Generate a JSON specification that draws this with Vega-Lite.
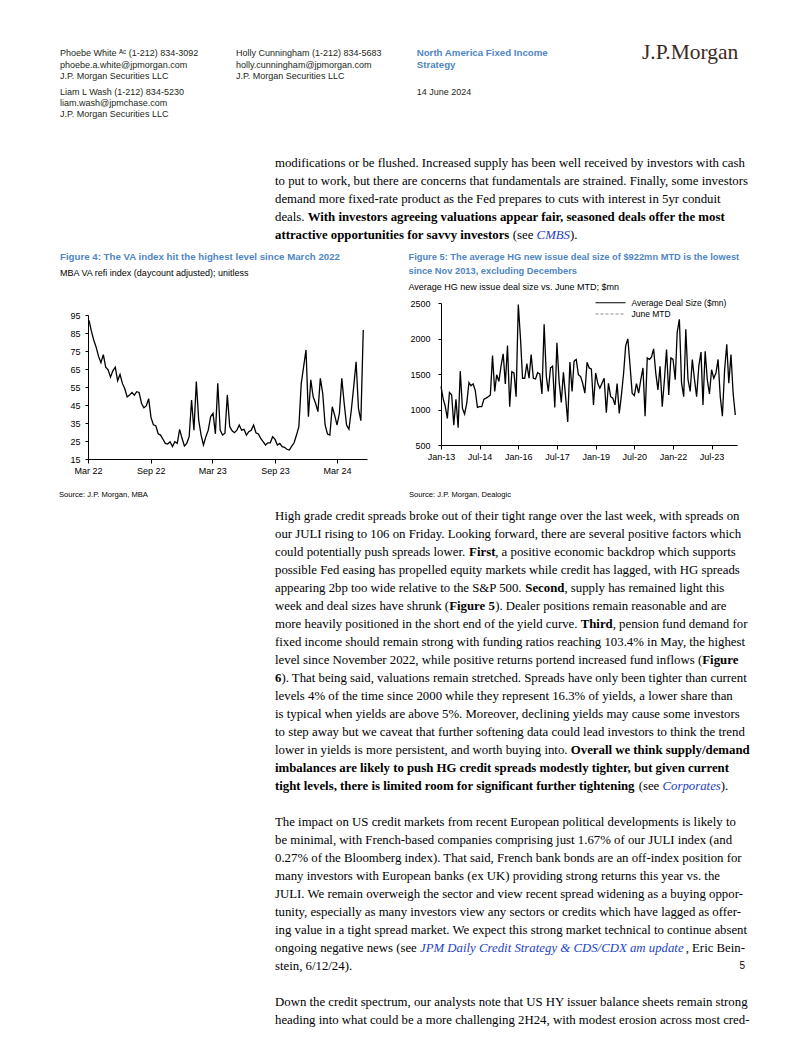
{
"$schema": "https://vega.github.io/schema/vega-lite/v6.json",
"padding": 0,
"background": "#ffffff",
"config": {"view": {"stroke": null}, "concat": {"spacing": 0}},
"spacing": 0,
"bounds": "flush",
"datasets": {
"txtH": [
{"c":0,"r":0,"s":"hdr","t":"Phoebe White ᴬᶜ (1-212) 834-3092"},
{"c":0,"r":1,"s":"hdr","t":"phoebe.a.white@jpmorgan.com"},
{"c":0,"r":2,"s":"hdr","t":"J.P. Morgan Securities LLC"},
{"c":0,"r":3,"s":"hdr","t":"Liam L Wash  (1-212) 834-5230"},
{"c":0,"r":4,"s":"hdr","t":"liam.wash@jpmchase.com"},
{"c":0,"r":5,"s":"hdr","t":"J.P. Morgan Securities LLC"},
{"c":1,"r":0,"s":"hdr","t":"Holly Cunningham  (1-212) 834-5683"},
{"c":1,"r":1,"s":"hdr","t":"holly.cunningham@jpmorgan.com"},
{"c":1,"r":2,"s":"hdr","t":"J.P. Morgan Securities LLC"},
{"c":5,"r":0,"s":"hdrB","t":"North America Fixed Income"},
{"c":5,"r":1,"s":"hdrB","t":"Strategy"},
{"c":5,"r":3,"s":"hdr","t":"14 June 2024"},
{"c":9,"r":0,"s":"logo","t":"J.P.Morgan"},
{"c":2,"r":6,"s":"n","t":"modifications or be flushed. Increased supply has been well received by investors with cash"},
{"c":2,"r":7,"s":"n","t":"to put to work, but there are concerns that fundamentals are strained. Finally, some investors"},
{"c":2,"r":8,"s":"n","t":"demand more fixed-rate product as the Fed prepares to cuts with interest in 5yr conduit"},
{"c":2,"r":9,"s":"n","t":"deals."},
{"c":3,"r":9,"s":"b","t":"With investors agreeing valuations appear fair, seasoned deals offer the most"},
{"c":2,"r":10,"s":"b","t":"attractive opportunities for savvy investors"},
{"c":6,"r":10,"s":"n","t":"(see"},
{"c":7,"r":10,"s":"i","t":"CMBS"},
{"c":8,"r":10,"s":"n","t":")."},
{"c":0,"r":11,"s":"ttl","t":"Figure 4: The VA index hit the highest level since March 2022"},
{"c":0,"r":13,"s":"sub","t":"MBA VA refi index (daycount adjusted); unitless"},
{"c":4,"r":11,"s":"ttl2","t":"Figure 5: The average HG new issue deal size of $922mn MTD is the lowest"},
{"c":4,"r":12,"s":"ttl2","t":"since Nov 2013, excluding Decembers"},
{"c":4,"r":14,"s":"sub","t":"Average HG new issue deal size vs. June MTD; $mn"}
],
"txtB": [
{"c":0,"r":-1,"s":"src","t":"Source: J.P. Morgan, MBA"},
{"c":3,"r":-1,"s":"src","t":"Source: J.P. Morgan, Dealogic"},
{"c":1,"r":0,"s":"n","t":"High grade credit spreads broke out of their tight range over the last week, with spreads on"},
{"c":1,"r":1,"s":"n","t":"our JULI rising to 106 on Friday. Looking forward, there are several positive factors which"},
{"c":1,"r":2,"s":"n","t":"could potentially push spreads lower."},
{"c":6,"r":2,"s":"b","t":"First"},
{"c":7,"r":2,"s":"n","t":", a positive economic backdrop which supports"},
{"c":1,"r":3,"s":"n","t":"possible Fed easing has propelled equity markets while credit has lagged, with HG spreads"},
{"c":1,"r":4,"s":"n","t":"appearing 2bp too wide relative to the S&P 500."},
{"c":8,"r":4,"s":"b","t":"Second"},
{"c":9,"r":4,"s":"n","t":", supply has remained light this"},
{"c":1,"r":5,"s":"n","t":"week and deal sizes have shrunk ("},
{"c":5,"r":5,"s":"b","t":"Figure 5"},
{"c":7,"r":5,"s":"n","t":"). Dealer positions remain reasonable and are"},
{"c":1,"r":6,"s":"n","t":"more heavily positioned in the short end of the yield curve."},
{"c":11,"r":6,"s":"b","t":"Third"},
{"c":12,"r":6,"s":"n","t":", pension fund demand for"},
{"c":1,"r":7,"s":"n","t":"fixed income should remain strong with funding ratios reaching 103.4% in May, the highest"},
{"c":1,"r":8,"s":"n","t":"level since November 2022, while positive returns portend increased fund inflows ("},
{"c":15,"r":8,"s":"b","t":"Figure"},
{"c":1,"r":9,"s":"b","t":"6"},
{"c":2,"r":9,"s":"n","t":"). That being said, valuations remain stretched. Spreads have only been tighter than current"},
{"c":1,"r":10,"s":"n","t":"levels 4% of the time since 2000 while they represent 16.3% of yields, a lower share than"},
{"c":1,"r":11,"s":"n","t":"is typical when yields are above 5%. Moreover, declining yields may cause some investors"},
{"c":1,"r":12,"s":"n","t":"to step away but we caveat that further softening data could lead investors to think the trend"},
{"c":1,"r":13,"s":"n","t":"lower in yields is more persistent, and worth buying into."},
{"c":10,"r":13,"s":"b","t":"Overall we think supply/demand"},
{"c":1,"r":14,"s":"b","t":"imbalances are likely to push HG credit spreads modestly tighter, but given current"},
{"c":1,"r":15,"s":"b","t":"tight levels, there is limited room for significant further tightening"},
{"c":13,"r":15,"s":"n","t":"(see"},
{"c":14,"r":15,"s":"i","t":"Corporates"},
{"c":16,"r":15,"s":"n","t":")."},
{"c":1,"r":17,"s":"n","t":"The impact on US credit markets from recent European political developments is likely to"},
{"c":1,"r":18,"s":"n","t":"be minimal, with French-based companies comprising just 1.67% of our JULI index (and"},
{"c":1,"r":19,"s":"n","t":"0.27% of the Bloomberg index). That said, French bank bonds are an off-index position for"},
{"c":1,"r":20,"s":"n","t":"many investors with European banks (ex UK) providing strong returns this year vs. the"},
{"c":1,"r":21,"s":"n","t":"JULI. We remain overweigh the sector and view recent spread widening as a buying oppor-"},
{"c":1,"r":22,"s":"n","t":"tunity, especially as many investors view any sectors or credits which have lagged as offer-"},
{"c":1,"r":23,"s":"n","t":"ing value in a tight spread market. We expect this strong market technical to continue absent"},
{"c":1,"r":24,"s":"n","t":"ongoing negative news (see"},
{"c":4,"r":24,"s":"i","t":"JPM Daily Credit Strategy & CDS/CDX am update"},
{"c":17,"r":24,"s":"nr","t":", Eric Bein-"},
{"c":1,"r":25,"s":"n","t":"stein, 6/12/24)."},
{"c":1,"r":27,"s":"n","t":"Down the credit spectrum, our analysts note that US HY issuer balance sheets remain strong"},
{"c":1,"r":28,"s":"n","t":"heading into what could be a more challenging 2H24, with modest erosion across most cred-"},
{"c":17,"r":25,"s":"pg","t":"5"}
],
"va": [
{"d":"2022-03-04","v":92},{"d":"2022-03-11","v":86},{"d":"2022-03-18","v":81},{"d":"2022-03-25","v":77},
{"d":"2022-04-01","v":72},{"d":"2022-04-08","v":68.5},{"d":"2022-04-15","v":73},{"d":"2022-04-22","v":66},{"d":"2022-04-29","v":64.5},
{"d":"2022-05-06","v":60.5},{"d":"2022-05-13","v":64},{"d":"2022-05-20","v":66},{"d":"2022-05-27","v":58.5},
{"d":"2022-06-03","v":62},{"d":"2022-06-10","v":57},{"d":"2022-06-17","v":54},{"d":"2022-06-24","v":49.5},
{"d":"2022-07-01","v":50.5},{"d":"2022-07-08","v":52},{"d":"2022-07-15","v":50.5},{"d":"2022-07-22","v":52.4},{"d":"2022-07-29","v":52},
{"d":"2022-08-05","v":46},{"d":"2022-08-12","v":43.5},{"d":"2022-08-19","v":44.5},{"d":"2022-08-26","v":48.5},
{"d":"2022-09-02","v":38},{"d":"2022-09-09","v":34},{"d":"2022-09-16","v":33.5},{"d":"2022-09-23","v":29},{"d":"2022-09-30","v":28.3},
{"d":"2022-10-07","v":26},{"d":"2022-10-14","v":23.7},{"d":"2022-10-21","v":23.3},{"d":"2022-10-28","v":24.6},
{"d":"2022-11-04","v":21.9},{"d":"2022-11-11","v":24.6},{"d":"2022-11-18","v":23.7},{"d":"2022-11-25","v":31.5},
{"d":"2022-12-02","v":26.5},{"d":"2022-12-09","v":22.2},{"d":"2022-12-16","v":23.7},{"d":"2022-12-23","v":27.4},{"d":"2022-12-30","v":47.8},
{"d":"2023-01-06","v":31},{"d":"2023-01-13","v":58},{"d":"2023-01-20","v":36.5},{"d":"2023-01-27","v":28.3},
{"d":"2023-02-03","v":22.8},{"d":"2023-02-10","v":27.4},{"d":"2023-02-17","v":31},{"d":"2023-02-24","v":38.5},
{"d":"2023-03-03","v":40.4},{"d":"2023-03-10","v":29},{"d":"2023-03-17","v":57},{"d":"2023-03-24","v":31},{"d":"2023-03-31","v":28.3},
{"d":"2023-04-07","v":29.3},{"d":"2023-04-14","v":50.6},{"d":"2023-04-21","v":33},{"d":"2023-04-28","v":30.7},
{"d":"2023-05-05","v":29.6},{"d":"2023-05-12","v":31},{"d":"2023-05-19","v":33.9},{"d":"2023-05-26","v":31},
{"d":"2023-06-02","v":31.5},{"d":"2023-06-09","v":28.3},{"d":"2023-06-16","v":30.2},{"d":"2023-06-23","v":31},{"d":"2023-06-30","v":33.9},
{"d":"2023-07-07","v":29.6},{"d":"2023-07-14","v":28.9},{"d":"2023-07-21","v":26.5},{"d":"2023-07-28","v":24.6},
{"d":"2023-08-04","v":22.8},{"d":"2023-08-11","v":24},{"d":"2023-08-18","v":24},{"d":"2023-08-25","v":27.4},
{"d":"2023-09-01","v":25.9},{"d":"2023-09-08","v":22.8},{"d":"2023-09-15","v":23.7},{"d":"2023-09-22","v":21.9},{"d":"2023-09-29","v":21.5},
{"d":"2023-10-06","v":20.4},{"d":"2023-10-13","v":20},{"d":"2023-10-20","v":22.2},{"d":"2023-10-27","v":24},
{"d":"2023-11-03","v":28.3},{"d":"2023-11-10","v":33},{"d":"2023-11-17","v":57},{"d":"2023-11-24","v":66.3},
{"d":"2023-12-01","v":75.6},{"d":"2023-12-08","v":38.5},{"d":"2023-12-15","v":59},{"d":"2023-12-22","v":49.6},{"d":"2023-12-29","v":46},
{"d":"2024-01-05","v":41.3},{"d":"2024-01-12","v":59.8},{"d":"2024-01-19","v":51.5},{"d":"2024-01-26","v":33.9},
{"d":"2024-02-02","v":28.9},{"d":"2024-02-09","v":28.3},{"d":"2024-02-16","v":44},{"d":"2024-02-23","v":39.4},
{"d":"2024-03-01","v":33.9},{"d":"2024-03-08","v":40.4},{"d":"2024-03-15","v":59.8},{"d":"2024-03-22","v":46},{"d":"2024-03-29","v":33.9},
{"d":"2024-04-05","v":31.5},{"d":"2024-04-12","v":42.2},{"d":"2024-04-19","v":55.2},{"d":"2024-04-26","v":69},
{"d":"2024-05-03","v":43},{"d":"2024-05-10","v":36.3},{"d":"2024-05-17","v":86.7}
],
"hg": [
{"d":"2013-01-01","v":1325},{"d":"2013-02-01","v":1150},{"d":"2013-03-01","v":1050},{"d":"2013-04-01","v":875},{"d":"2013-05-01","v":1240},{"d":"2013-06-01","v":1205},{"d":"2013-07-01","v":780},{"d":"2013-08-01","v":1145},{"d":"2013-09-01","v":745},{"d":"2013-10-01","v":1540},{"d":"2013-11-01","v":1015},{"d":"2013-12-01","v":935},
{"d":"2014-01-01","v":1090},{"d":"2014-02-01","v":1380},{"d":"2014-03-01","v":1335},{"d":"2014-04-01","v":1360},{"d":"2014-05-01","v":1270},{"d":"2014-06-01","v":1030},{"d":"2014-07-01","v":1040},{"d":"2014-08-01","v":1040},{"d":"2014-09-01","v":1145},{"d":"2014-10-01","v":1160},{"d":"2014-11-01","v":1180},{"d":"2014-12-01","v":1205},
{"d":"2015-01-01","v":1760},{"d":"2015-02-01","v":1255},{"d":"2015-03-01","v":1490},{"d":"2015-04-01","v":1395},{"d":"2015-05-01","v":1610},{"d":"2015-06-01","v":1785},{"d":"2015-07-01","v":1360},{"d":"2015-08-01","v":1900},{"d":"2015-09-01","v":1040},{"d":"2015-10-01","v":1530},{"d":"2015-11-01","v":1515},{"d":"2015-12-01","v":1180},
{"d":"2016-01-01","v":2480},{"d":"2016-02-01","v":2000},{"d":"2016-03-01","v":1440},{"d":"2016-04-01","v":1440},{"d":"2016-05-01","v":1645},{"d":"2016-06-01","v":1440},{"d":"2016-07-01","v":1775},{"d":"2016-08-01","v":1440},{"d":"2016-09-01","v":1430},{"d":"2016-10-01","v":1520},{"d":"2016-11-01","v":1500},{"d":"2016-12-01","v":1220},
{"d":"2017-01-01","v":2200},{"d":"2017-02-01","v":1465},{"d":"2017-03-01","v":1255},{"d":"2017-04-01","v":1585},{"d":"2017-05-01","v":1610},{"d":"2017-06-01","v":1030},{"d":"2017-07-01","v":1940},{"d":"2017-08-01","v":1395},{"d":"2017-09-01","v":1100},{"d":"2017-10-01","v":1525},{"d":"2017-11-01","v":1180},{"d":"2017-12-01","v":825},
{"d":"2018-01-01","v":1670},{"d":"2018-02-01","v":1255},{"d":"2018-03-01","v":1680},{"d":"2018-04-01","v":1705},{"d":"2018-05-01","v":1490},{"d":"2018-06-01","v":1465},{"d":"2018-07-01","v":1370},{"d":"2018-08-01","v":1230},{"d":"2018-09-01","v":1665},{"d":"2018-10-01","v":1585},{"d":"2018-11-01","v":1570},{"d":"2018-12-01","v":1065},
{"d":"2019-01-01","v":1515},{"d":"2019-02-01","v":1365},{"d":"2019-03-01","v":1300},{"d":"2019-04-01","v":1370},{"d":"2019-05-01","v":1440},{"d":"2019-06-01","v":955},{"d":"2019-07-01","v":1370},{"d":"2019-08-01","v":1180},{"d":"2019-09-01","v":1160},{"d":"2019-10-01","v":1065},{"d":"2019-11-01","v":1365},{"d":"2019-12-01","v":945},
{"d":"2020-01-01","v":1205},{"d":"2020-02-01","v":1515},{"d":"2020-03-01","v":1900},{"d":"2020-04-01","v":1995},{"d":"2020-05-01","v":1630},{"d":"2020-06-01","v":1230},{"d":"2020-07-01","v":1195},{"d":"2020-08-01","v":1365},{"d":"2020-09-01","v":1230},{"d":"2020-10-01","v":1420},{"d":"2020-11-01","v":1585},{"d":"2020-12-01","v":907},
{"d":"2021-01-01","v":1727},{"d":"2021-02-01","v":1705},{"d":"2021-03-01","v":1737},{"d":"2021-04-01","v":1855},{"d":"2021-05-01","v":1515},{"d":"2021-06-01","v":1277},{"d":"2021-07-01","v":1610},{"d":"2021-08-01","v":1040},{"d":"2021-09-01","v":1420},{"d":"2021-10-01","v":1845},{"d":"2021-11-01","v":1205},{"d":"2021-12-01","v":1727},
{"d":"2022-01-01","v":1705},{"d":"2022-02-01","v":1420},{"d":"2022-03-01","v":2090},{"d":"2022-04-01","v":2270},{"d":"2022-05-01","v":1380},{"d":"2022-06-01","v":1180},{"d":"2022-07-01","v":2130},{"d":"2022-08-01","v":1420},{"d":"2022-09-01","v":1255},{"d":"2022-10-01","v":1705},{"d":"2022-11-01","v":1420},{"d":"2022-12-01","v":1180},
{"d":"2023-01-01","v":1610},{"d":"2023-02-01","v":1810},{"d":"2023-03-01","v":1065},{"d":"2023-04-01","v":1820},{"d":"2023-05-01","v":1420},{"d":"2023-06-01","v":1220},{"d":"2023-07-01","v":1560},{"d":"2023-08-01","v":1440},{"d":"2023-09-01","v":1515},{"d":"2023-10-01","v":1705},{"d":"2023-11-01","v":1180},{"d":"2023-12-01","v":907},
{"d":"2024-01-01","v":1550},{"d":"2024-02-01","v":1917},{"d":"2024-03-01","v":1370},{"d":"2024-04-01","v":1775},{"d":"2024-05-01","v":1230},{"d":"2024-06-01","v":922}
],
"mtd": [{"s":"June MTD","v":922}]
},
"vconcat": [
{
"width": 802, "height": 303,
"data": {"name": "txtH"},
"encoding": {
"x": {"field":"c","type":"quantitative","axis":null,"scale":{"domain":[0,1,2,3,4,5,6,7,8,9],"range":[60,236,275,307.7,408.5,416.7,512.8,536.6,570,642],"zero":false,"nice":false}},
"y": {"field":"r","type":"quantitative","axis":null,"scale":{"domain":[0,1,2,3,4,5,6,7,8,9,10,11,12,13,14],"range":[53.3,65.3,76.3,91.7,103,114.3,163,181,199,217,235,257,270.5,273,287],"zero":false,"nice":false}},
"text": {"field":"t"}
},
"layer": [
{"transform":[{"filter":"datum.s==='hdr'"}],"mark":{"type":"text","align":"left","baseline":"middle","font":"Liberation Sans","fontSize":9,"color":"#231f20"}},
{"transform":[{"filter":"datum.s==='hdrB'"}],"mark":{"type":"text","align":"left","baseline":"middle","font":"Liberation Sans","fontSize":9.7,"fontWeight":"bold","color":"#4f86c3"}},
{"transform":[{"filter":"datum.s==='logo'"}],"mark":{"type":"text","align":"left","baseline":"middle","font":"Liberation Serif","fontSize":21.5,"color":"#3d2b1f"}},
{"transform":[{"filter":"datum.s==='n'"}],"mark":{"type":"text","align":"left","baseline":"middle","font":"Liberation Serif","fontSize":12.8,"color":"#000000"}},
{"transform":[{"filter":"datum.s==='b'"}],"mark":{"type":"text","align":"left","baseline":"middle","font":"Liberation Serif","fontSize":12.8,"fontWeight":"bold","color":"#000000"}},
{"transform":[{"filter":"datum.s==='i'"}],"mark":{"type":"text","align":"left","baseline":"middle","font":"Liberation Serif","fontSize":12.8,"fontStyle":"italic","color":"#2442c2"}},
{"transform":[{"filter":"datum.s==='ttl'"}],"mark":{"type":"text","align":"left","baseline":"middle","font":"Liberation Sans","fontSize":9.7,"fontWeight":"bold","color":"#4f86c3"}},
{"transform":[{"filter":"datum.s==='ttl2'"}],"mark":{"type":"text","align":"left","baseline":"middle","font":"Liberation Sans","fontSize":9.3,"fontWeight":"bold","color":"#4f86c3"}},
{"transform":[{"filter":"datum.s==='sub'"}],"mark":{"type":"text","align":"left","baseline":"middle","font":"Liberation Sans","fontSize":9,"color":"#000000"}}
]
},
{
"width": 802, "height": 156,
"resolve": {"scale": {"x":"independent","y":"independent"}, "axis": {"x":"independent","y":"independent"}},
"layer": [
{
"data": {"name": "va"},
"mark": {"type":"line","color":"#000000","strokeWidth":1.3},
"encoding": {
"x": {"field":"d","type":"temporal",
"scale":{"type":"utc","domain":[{"year":2022,"month":3,"date":1,"utc":true},{"year":2024,"month":5,"date":28,"utc":true}],"range":[88,367]},
"axis":{"orient":"bottom","title":null,"format":"%b %y","values":[{"year":2022,"month":3,"date":1,"utc":true},{"year":2022,"month":9,"date":1,"utc":true},{"year":2023,"month":3,"date":1,"utc":true},{"year":2023,"month":9,"date":1,"utc":true},{"year":2024,"month":3,"date":1,"utc":true}],
"grid":false,"labelFlush":false,"labelOverlap":false,"domainColor":"#000000","tickColor":"#000000","labelColor":"#000000","labelFont":"Liberation Sans","labelFontSize":9,"tickSize":4,"labelPadding":3}},
"y": {"field":"v","type":"quantitative",
"scale":{"domain":[15,95],"range":[156,12],"zero":false,"nice":false},
"axis":{"orient":"left","offset":-88,"title":null,"values":[15,25,35,45,55,65,75,85,95],"grid":false,"domainColor":"#000000","tickColor":"#000000","labelColor":"#000000","labelFont":"Liberation Sans","labelFontSize":9,"tickSize":3,"labelPadding":5}}
}
},
{
"encoding": {
"x": {"field":"d","type":"temporal",
"scale":{"type":"utc","domain":[{"year":2013,"month":1,"date":1,"utc":true},{"year":2024,"month":6,"date":25,"utc":true}],"range":[441,737]},
"axis":{"orient":"bottom","offset":-14,"title":null,"format":"%b-%y","values":[{"year":2013,"month":1,"date":1,"utc":true},{"year":2014,"month":7,"date":1,"utc":true},{"year":2016,"month":1,"date":1,"utc":true},{"year":2017,"month":7,"date":1,"utc":true},{"year":2019,"month":1,"date":1,"utc":true},{"year":2020,"month":7,"date":1,"utc":true},{"year":2022,"month":1,"date":1,"utc":true},{"year":2023,"month":7,"date":1,"utc":true}],
"grid":false,"labelFlush":false,"labelOverlap":false,"domainColor":"#000000","tickColor":"#000000","labelColor":"#000000","labelFont":"Liberation Sans","labelFontSize":9,"tickSize":4,"labelPadding":3}},
"y": {"field":"v","type":"quantitative",
"scale":{"domain":[500,2500],"range":[142,0],"zero":false,"nice":false},
"axis":{"orient":"left","offset":-441,"format":"d","title":null,"values":[500,1000,1500,2000,2500],"grid":false,"domainColor":"#000000","tickColor":"#000000","labelColor":"#000000","labelFont":"Liberation Sans","labelFontSize":9,"tickSize":3,"labelPadding":8}}
},
"layer": [
{"data": {"name": "hg"},
"mark": {"type":"line","strokeWidth":1.3},
"encoding": {
"color": {"datum":"Average Deal Size ($mn)","type":"nominal","scale":{"domain":["Average Deal Size ($mn)","June MTD"],"range":["#000000","#8c8c8c"]},
"legend":{"orient":"none","legendX":604.5,"legendY":296.7,"title":null,"symbolType":"M-3,0H3","symbolSize":100,"symbolStrokeWidth":1.1,"labelFont":"Liberation Sans","labelFontSize":8.5,"labelColor":"#000000","rowPadding":0.3,"labelOffset":15,"padding":0}},
"strokeDash": {"datum":"Average Deal Size ($mn)","type":"nominal","scale":{"domain":["Average Deal Size ($mn)","June MTD"],"range":[[1,0],[3,2]]},
"legend":{"orient":"none","legendX":604.5,"legendY":296.7,"title":null,"symbolType":"M-3,0H3","symbolSize":100,"symbolStrokeWidth":1.1,"labelFont":"Liberation Sans","labelFontSize":8.5,"labelColor":"#000000","rowPadding":0.3,"labelOffset":15,"padding":0}}
}},
{"data": {"name": "mtd"},
"mark": {"type":"rule","strokeWidth":0.8},
"encoding": {
"x": {"datum": {"year":2013,"month":1,"date":1,"utc":true}, "type":"temporal"},
"x2": {"datum": {"year":2024,"month":6,"date":25,"utc":true}},
"y": {"field":"v","type":"quantitative"},
"color": {"field":"s","type":"nominal","legend":{"orient":"none","legendX":604.5,"legendY":296.7,"title":null,"symbolType":"M-3,0H3","symbolSize":100,"symbolStrokeWidth":1.1,"labelFont":"Liberation Sans","labelFontSize":8.5,"labelColor":"#000000","rowPadding":0.3,"labelOffset":15,"padding":0}},
"strokeDash": {"field":"s","type":"nominal","legend":{"orient":"none","legendX":604.5,"legendY":296.7,"title":null,"symbolType":"M-3,0H3","symbolSize":100,"symbolStrokeWidth":1.1,"labelFont":"Liberation Sans","labelFontSize":8.5,"labelColor":"#000000","rowPadding":0.3,"labelOffset":15,"padding":0}}
}}
]
}
]
},
{
"width": 802, "height": 578,
"data": {"name": "txtB"},
"encoding": {
"x": {"field":"c","type":"quantitative","axis":null,"scale":{"domain":[0,1,2,3,4,5,6,7,8,9,10,11,12,13,14,15,16,17],"range":[59,275,281.4,409,420,449.2,469.1,495.2,525.3,564.4,570.8,580.7,612.7,638.7,662.5,702.3,720.8,745],"zero":false,"nice":false}},
"y": {"field":"r","type":"quantitative","axis":null,"scale":{"domain":[-1,0,28],"range":[36,57,561],"zero":false,"nice":false}},
"text": {"field":"t"}
},
"layer": [
{"transform":[{"filter":"datum.s==='src'"}],"mark":{"type":"text","align":"left","baseline":"middle","font":"Liberation Sans","fontSize":7.6,"color":"#000000"}},
{"transform":[{"filter":"datum.s==='n'"}],"mark":{"type":"text","align":"left","baseline":"middle","font":"Liberation Serif","fontSize":12.8,"color":"#000000"}},
{"transform":[{"filter":"datum.s==='b'"}],"mark":{"type":"text","align":"left","baseline":"middle","font":"Liberation Serif","fontSize":12.8,"fontWeight":"bold","color":"#000000"}},
{"transform":[{"filter":"datum.s==='i'"}],"mark":{"type":"text","align":"left","baseline":"middle","font":"Liberation Serif","fontSize":12.8,"fontStyle":"italic","color":"#2442c2"}},
{"transform":[{"filter":"datum.s==='nr'"}],"mark":{"type":"text","align":"right","baseline":"middle","font":"Liberation Serif","fontSize":12.8,"color":"#000000"}},
{"transform":[{"filter":"datum.s==='pg'"}],"mark":{"type":"text","align":"right","baseline":"middle","font":"Liberation Sans","fontSize":10,"color":"#000000"}}
]
}
]
}
